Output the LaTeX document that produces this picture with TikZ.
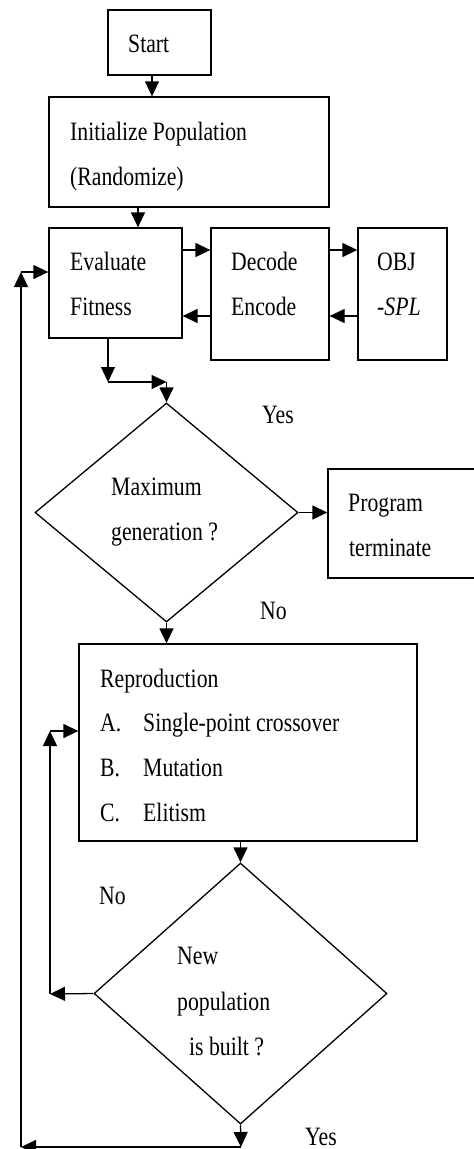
\documentclass[tikz,border=0pt]{standalone}
\usepackage{fontspec}
\setmainfont{Liberation Serif}[FakeStretch=0.82]
\usetikzlibrary{shapes.geometric,arrows.meta}
\begin{document}
\begin{tikzpicture}[x=1pt,y=-1pt,
  box/.style={draw,line width=1.3pt,inner sep=0pt},
  dia/.style={draw,diamond,line width=1.3pt,inner sep=0pt},
  txt/.style={anchor=base west,inner sep=0pt,font=\fontsize{26.5}{30}\selectfont},
  arr/.style={line width=1.3pt,-{Triangle[length=15pt,width=14pt]}}]
\useasboundingbox (0,0) rectangle (474,1149);
\clip (0,0) rectangle (474,1149);

% boxes
\node[box,minimum width=103pt,minimum height=65pt]  (start) at (159.5,42.5) {};
\node[box,minimum width=280pt,minimum height=110pt] (init)  at (189,152) {};
\node[box,minimum width=133pt,minimum height=110pt] (eval)  at (115.5,283) {};
\node[box,minimum width=118pt,minimum height=132pt] (dec)   at (270,294) {};
\node[box,minimum width=89pt,minimum height=132pt]  (obj)   at (402.5,294) {};
\node[box,minimum width=162pt,minimum height=109pt] (prog)  at (409,523.5) {};
\node[box,minimum width=338pt,minimum height=197pt] (repro) at (248,742.5) {};
% decisions
\node[dia,minimum width=263pt,minimum height=219pt] (d1) at (166.5,512.5) {};
\node[dia,minimum width=293pt,minimum height=261pt] (d2) at (240.5,993.5) {};

% texts
\node[txt] (tstart) at (128,52) {Start};
\node[txt] (tinit1) at (70,140) {Initialize Population};
\node[txt] (tinit2) at (70,185) {(Randomize)};
\node[txt] (teval1) at (70,270) {Evaluate};
\node[txt] (teval2) at (70,315) {Fitness};
\node[txt] (tdec1)  at (231,270) {Decode};
\node[txt] (tdec2)  at (231,315) {Encode};
\node[txt] (tobj1)  at (377,270) {OBJ};
\node[txt] (tobj2)  at (377,315) {-\textit{SPL}};
\node[txt] (tyes1)  at (262,423) {Yes};
\node[txt] (td1a)   at (111,495) {Maximum};
\node[txt] (td1b)   at (111,540) {generation ?};
\node[txt] (tprog1) at (348,511) {Program};
\node[txt] (tprog2) at (349,556) {terminate};
\node[txt] (tno1)   at (260,619) {No};
\node[txt] (trep)   at (100,687) {Reproduction};
\node[txt] (tA)     at (100,731) {A.};
\node[txt] (tAx)    at (143,731) {Single-point crossover};
\node[txt] (tB)     at (100,776) {B.};
\node[txt] (tBx)    at (143,776) {Mutation};
\node[txt] (tC)     at (100,821) {C.};
\node[txt] (tCx)    at (143,821) {Elitism};
\node[txt] (tno2)   at (99,904) {No};
\node[txt] (td2a)   at (177,964) {New};
\node[txt] (td2b)   at (177,1010) {population};
\node[txt] (td2c)   at (189,1055) {is built ?};
\node[txt] (tyes2)  at (305,1145) {Yes};

% corner points of the routed connectors
\coordinate (c1) at (108,382);
\coordinate (c2) at (50,994);
\coordinate (c3) at (50,731);
\coordinate (c4) at (241,1147);
\coordinate (c5) at (21,1147);
\coordinate (c6) at (21,272);

% main flow
\draw[arr] ([xshift=-7.5pt]start.south) -- ([xshift=-7.5pt]start.south |- init.north);
\draw[arr] ([xshift=-51pt]init.south) -- ([xshift=-51pt]init.south |- eval.north);
\draw[arr] ([yshift=33pt]eval.east) -- ([yshift=33pt]eval.east -| dec.west);
\draw[arr] ([yshift=44pt]dec.east) -- ([yshift=44pt]dec.east -| obj.west);
\draw[arr] ([yshift=-22pt]obj.west) -- ([yshift=-22pt]obj.west -| dec.east);
\draw[arr] ([yshift=-22pt]dec.west) -- ([yshift=-22pt]dec.west -| eval.east);
\draw[arr] (eval.south -| c1) -- (c1);
\draw[arr] (c1) -- (c1 -| d1.north);
\draw[arr] (c1 -| d1.north) -- (d1.north);
\draw[arr] (d1.east) -- (d1.east -| prog.west);
\draw[arr] (d1.south) -- (d1.south |- repro.north);
\draw[arr] (d2.north |- repro.south) -- (d2.north);
% loop back to reproduction
\draw[arr] (d2.west) -- (c2);
\draw[arr] (c2) -- (c3);
\draw[arr] (c3) -- (c3 -| repro.west);
% loop back to fitness evaluation
\draw[arr] (d2.south) -- (c4);
\draw[arr] (c4) -- (c5);
\draw[arr] (c5) -- (c6);
\draw[arr] (c6) -- (c6 -| eval.west);
\end{tikzpicture}
\end{document}
